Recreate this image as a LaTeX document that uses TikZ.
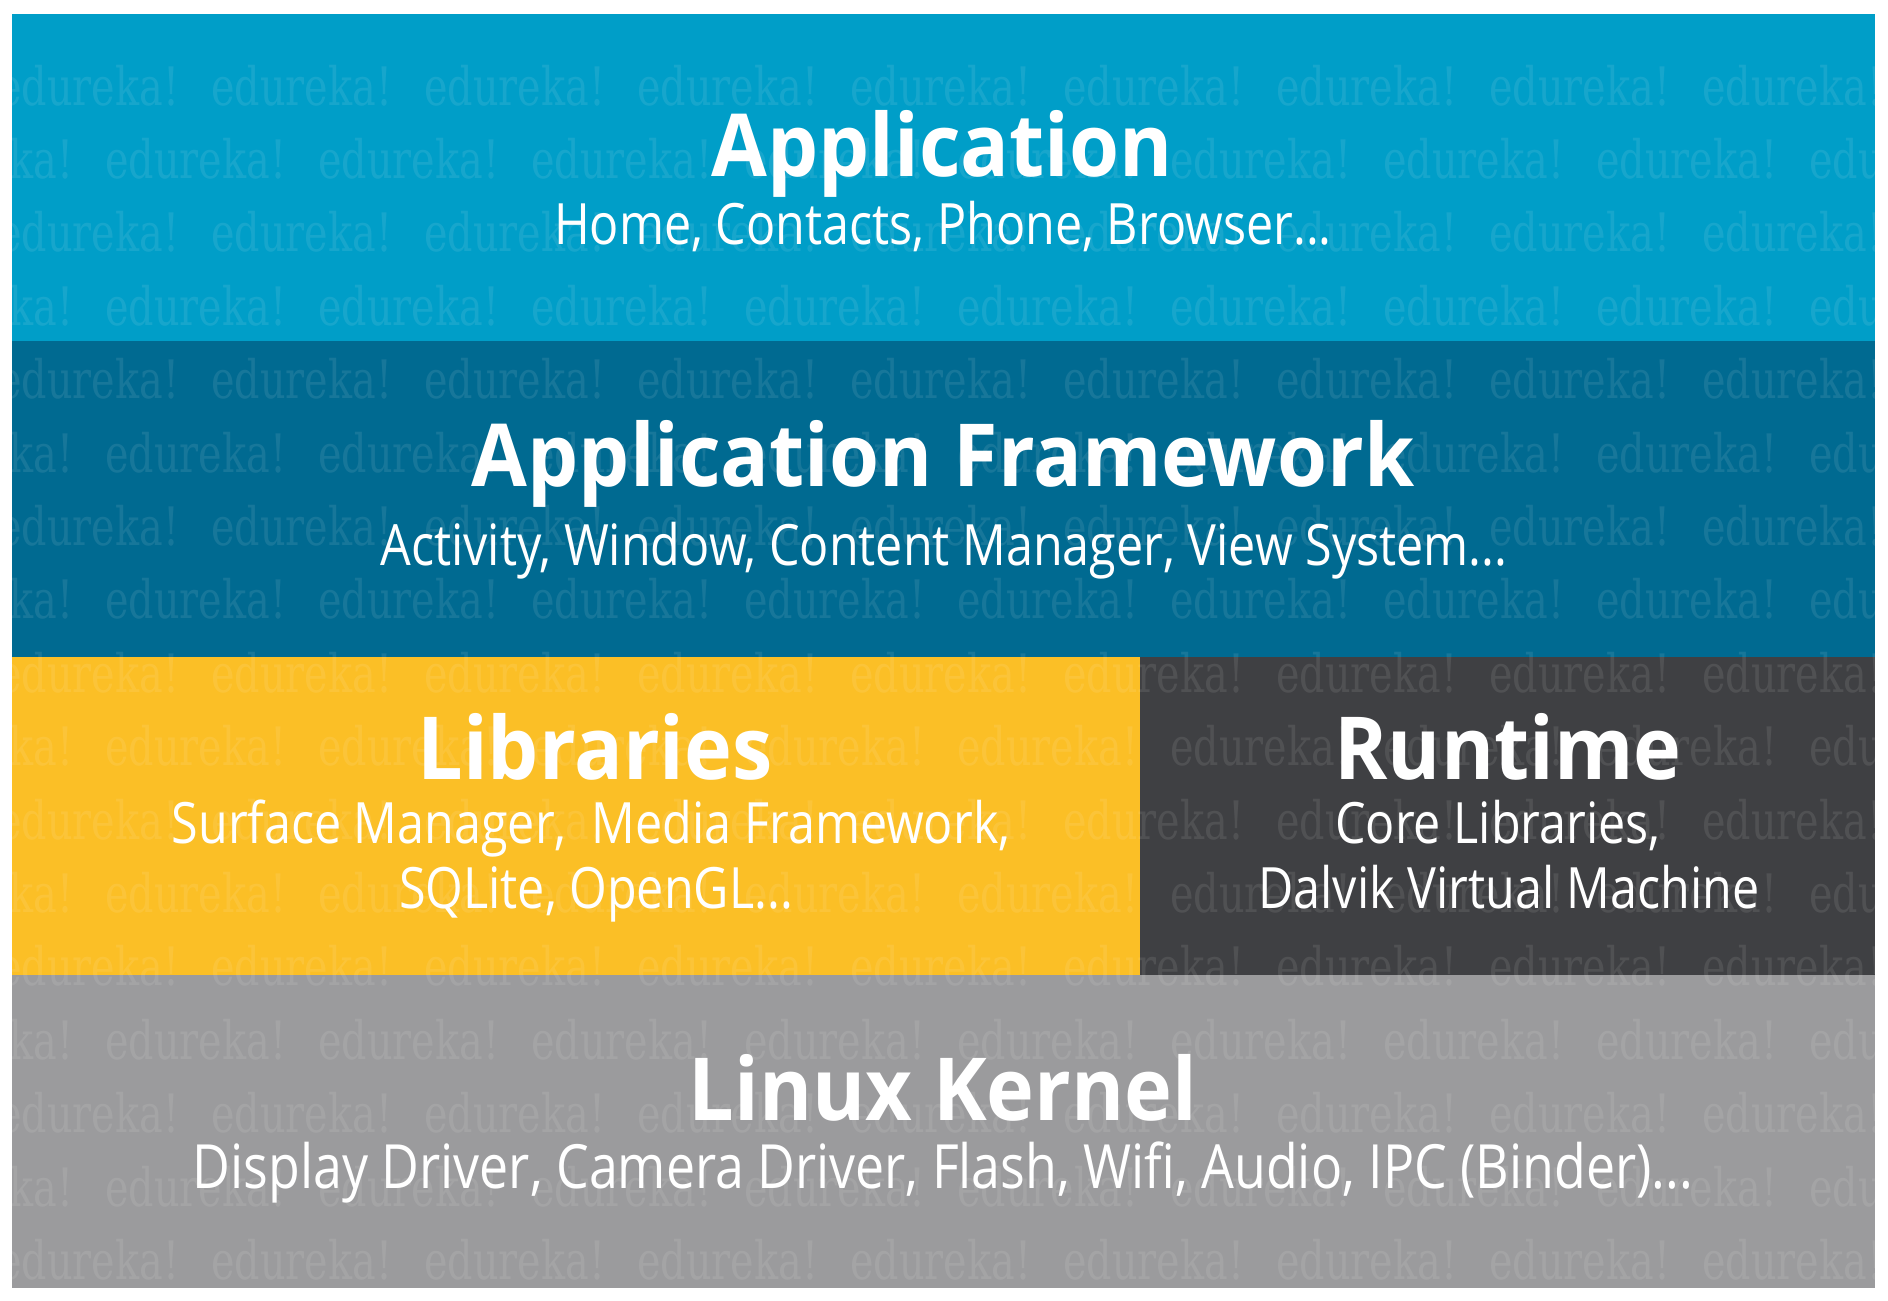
\documentclass[tikz,border=0pt]{standalone}
\usepackage{fontspec}
\setmainfont{Open Sans}
\newfontfamily\titlefont[FakeStretch=0.93]{Open Sans}
\newfontfamily\subfont[FakeStretch=0.85]{Open Sans}
\newfontfamily\markfont[FakeStretch=0.75]{DejaVu Serif}
\definecolor{appblue}{RGB}{0,158,200}
\definecolor{frameblue}{RGB}{0,106,145}
\definecolor{libyellow}{RGB}{251,191,38}
\definecolor{rtgray}{RGB}{63,64,67}
\definecolor{kernelgray}{RGB}{155,155,157}
\tikzset{
  layertitle/.style={anchor=base,text=white,inner sep=0pt,font=\titlefont\bfseries\fontsize{87}{87}\selectfont},
  layersub/.style={anchor=base,text=white,inner sep=0pt,font=\subfont\fontsize{57}{57}\selectfont},
  markword/.style={anchor=base west,inner sep=0pt,text=white,text opacity=0.09,font=\markfont\fontsize{53}{53}\selectfont}
}

\begin{document}
\begin{tikzpicture}[x=1pt,y=-1pt]

    % page size of the reference
    \useasboundingbox (0,0) rectangle (1888,1301);
    \fill[white] (0,0) rectangle (1888,1301);

    % band boundaries
    \def\xl{12}     % left edge
    \def\xr{1875}   % right edge
    \def\xs{1140}   % libraries / runtime split
    \def\yt{14}     % top edge
    \def\ya{341}    % application / framework
    \def\yb{657}    % framework / libraries
    \def\yc{975}    % libraries / kernel
    \def\yd{1288}   % bottom edge

    % -- the five coloured layers --
    \fill[appblue]    (\xl,\yt) rectangle (\xr,\ya);
    \fill[frameblue]  (\xl,\ya) rectangle (\xr,\yb);
    \fill[libyellow]  (\xl,\yb) rectangle (\xs,\yc);
    \fill[rtgray]     (\xs,\yb) rectangle (\xr,\yc);
    \fill[kernelgray] (\xl,\yc) rectangle (\xr,\yd);

    % -- watermark rows, every other row shifted by half a word --
    \begin{scope}
      \clip (\xl,\yt) rectangle (\xr,\yd);
      \foreach \r [evaluate=\r as \wy using 105+73.4*\r,
                   evaluate=\r as \wx using {ifthenelse(mod(\r,2)==0,-2,-108)}] in {0,...,16}
        \foreach \c in {0,...,9}
          \node[markword] (wm-\r-\c) at ({\wx+213*\c},\wy) {edureka!};
    \end{scope}

    % -- layer names and contents --
    \node[layertitle] (apptitle) at (942,176) {Application};
    \node[layersub]   (appsub)   at (943,244) {Home, Contacts, Phone, Browser...};

    \node[layertitle] (fwtitle) at (943,486) {Application Framework};
    \node[layersub]   (fwsub)   at (944,565) {Activity, Window, Content Manager, View System...};

    \node[layertitle] (libtitle) at (595,779) {Libraries};
    \node[layersub]   (libsubA)  at (591,843) {Surface Manager,\ \ Media Framework,};
    \node[layersub]   (libsubB)  at (596,908) {SQLite, OpenGL...};

    \node[layertitle] (rttitle) at (1508,779) {Runtime};
    \node[layersub]   (rtsubA)  at (1498,843) {Core Libraries,};
    \node[layersub]   (rtsubB)  at (1509,908) {Dalvik Virtual Machine};

    \node[layertitle] (kerneltitle) at (943,1120) {Linux Kernel};
    \node[layersub,font=\subfont\fontsize{61}{61}\selectfont]
                      (kernelsub)   at (943,1188) {Display Driver, Camera Driver, Flash, Wifi, Audio, IPC (Binder)...};

\end{tikzpicture}
\end{document}
